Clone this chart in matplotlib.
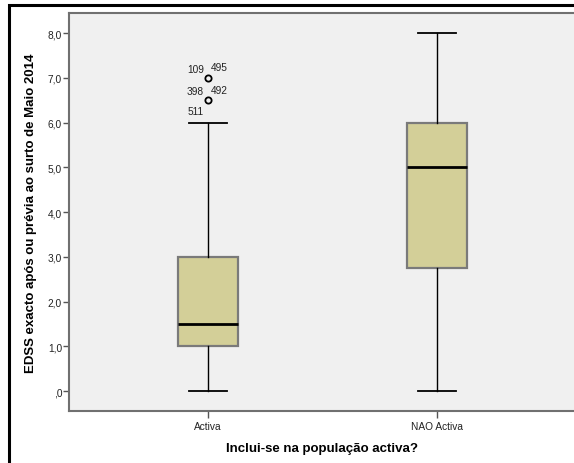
import matplotlib
matplotlib.use("Agg")
import matplotlib.pyplot as plt
from matplotlib.patches import Rectangle

# Box statistics for EDSS by work status
groups = ["Activa", "NAO Activa"]
whislo = [0.0, 0.0]
q1 = [1.0, 2.75]
med = [1.5, 5.0]
q3 = [3.0, 6.0]
whishi = [6.0, 8.0]
fliers = [[7.0, 6.5], []]
# case ids shown next to the outliers of the first group: (value, left ids, right ids, below ids)
outlier_ids = [(7.0, "109", "495", ""), (6.5, "398", "492", "511")]

yticks = [0, 1, 2, 3, 4, 5, 6, 7, 8]
ytick_labels = [",0", "1,0", "2,0", "3,0", "4,0", "5,0", "6,0", "7,0", "8,0"]

plt.rcParams["font.family"] = ["Liberation Sans", "DejaVu Sans"]

fig = plt.figure(figsize=(5.74, 4.64), dpi=100)
W, H = 574, 464
ax = fig.add_axes([69 / W, 1 - 412 / H, (576 - 69) / W, (412 - 14) / H])
ax.set_facecolor("#f0f0f0")

stats = []
for i, g in enumerate(groups):
    stats.append(dict(label=g, whislo=whislo[i], q1=q1[i], med=med[i],
                      q3=q3[i], whishi=whishi[i], fliers=fliers[i]))

ax.bxp(stats, positions=range(len(groups)), widths=0.26, patch_artist=True,
       boxprops=dict(facecolor="#d3cf98", edgecolor="#7a7a7a", linewidth=1.6),
       medianprops=dict(color="black", linewidth=2.0),
       whiskerprops=dict(color="black", linewidth=1.0),
       capprops=dict(color="black", linewidth=1.3),
       capwidths=0.17,
       flierprops=dict(marker="o", markersize=4.5, markerfacecolor="none",
                       markeredgecolor="black", markeredgewidth=1.3))

for val, left, right, below in outlier_ids:
    kw = dict(fontsize=7.3, color="#222222")
    if left:
        ax.annotate(left, (0, val), xytext=(-3, 3), textcoords="offset points",
                    ha="right", va="bottom", **kw)
    if right:
        ax.annotate(right, (0, val), xytext=(2, 4), textcoords="offset points",
                    ha="left", va="bottom", **kw)
    if below:
        ax.annotate(below, (0, val), xytext=(-3, -4), textcoords="offset points",
                    ha="right", va="top", **kw)

ax.set_xlim(-0.607, 1.607)
ax.set_ylim(-0.447, 8.45)
ax.set_yticks(yticks)
ax.set_yticklabels(ytick_labels)
ax.set_xticks(range(len(groups)))
ax.set_xticklabels(groups)
ax.tick_params(axis="both", labelsize=7.3, colors="#555555", labelcolor="#222222",
               length=4, width=1)
ax.tick_params(axis="x", length=5, pad=2)
ax.tick_params(axis="y", pad=1)

for s in ax.spines.values():
    s.set_color("#707070")
    s.set_linewidth(1.5)

ax.set_ylabel("EDSS exacto após ou prévia ao surto de Maio 2014",
              fontsize=9.5, fontweight="bold", labelpad=8)
ax.set_xlabel("Inclui-se na população activa?", fontsize=9.5,
              fontweight="bold", labelpad=8)

# outer frame around the chart
fig.patches.append(Rectangle((9 / W, -0.1), 1.2, 1 - 6 / H + 0.1,
                             transform=fig.transFigure, fill=False,
                             edgecolor="black", linewidth=2.2))

fig.savefig("out.png", dpi=100)
